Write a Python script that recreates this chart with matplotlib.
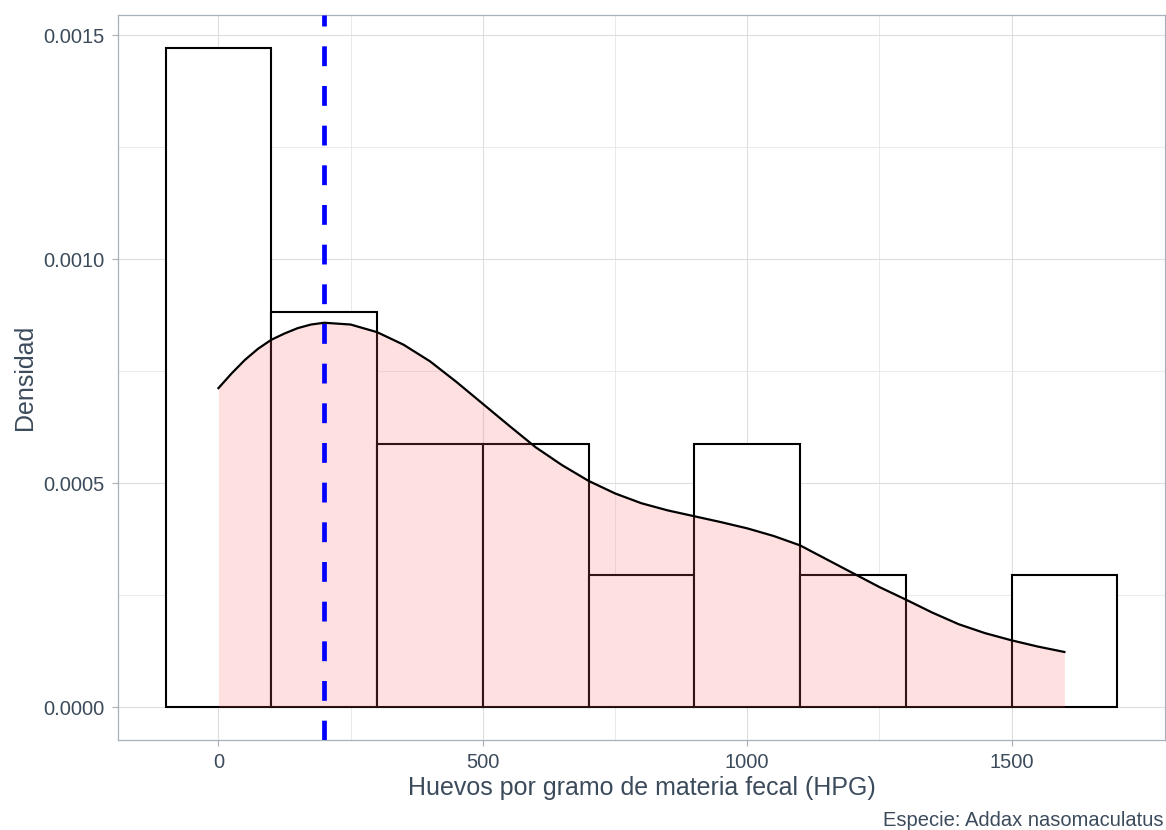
import matplotlib
matplotlib.use('Agg')
import numpy as np
import matplotlib.pyplot as plt

# histogram: bin centres (width 200) and counts, n = 17
bin_centers = [0, 200, 400, 600, 800, 1000, 1200, 1400, 1600]
bin_counts = [5, 3, 2, 2, 1, 2, 1, 0, 1]
bin_width = 200

# density curve
kde_x = [0, 25, 50, 75, 100, 125, 150, 175, 200, 250, 300, 350, 400, 450, 500,
         550, 600, 650, 700, 750, 800, 850, 900, 950, 1000, 1050, 1100, 1150,
         1200, 1250, 1300, 1350, 1400, 1450, 1500, 1550, 1600]
kde_y = [0.000712, 0.000745, 0.000775, 0.000800, 0.000820, 0.000834, 0.000846,
         0.000854, 0.000858, 0.000854, 0.000837, 0.000809, 0.000772, 0.000726,
         0.000677, 0.000628, 0.000580, 0.000540, 0.000505, 0.000477, 0.000455,
         0.000439, 0.000426, 0.000413, 0.000399, 0.000382, 0.000361, 0.000330,
         0.000299, 0.000268, 0.000240, 0.000211, 0.000185, 0.000165, 0.000149,
         0.000135, 0.000123]

ref_line = 200

text_col = '#3C4B5C'
plt.rcParams['font.family'] = ['Liberation Sans', 'DejaVu Sans']

fig = plt.figure(figsize=(11.66, 8.30), dpi=100)
ax = fig.add_axes([0.1012, 0.1084, 0.8978, 0.8735])

n = sum(bin_counts)
dens = np.array(bin_counts) / (n * bin_width)

ax.bar(bin_centers, dens, width=bin_width, color='white', edgecolor='black',
       linewidth=1.5, zorder=2)
ax.fill_between(kde_x, kde_y, 0, color='#FF6666', alpha=0.2, linewidth=0, zorder=3)
ax.plot(kde_x, kde_y, color='black', linewidth=1.6, zorder=4,
        solid_joinstyle='round')
ax.axvline(ref_line, color='blue', linewidth=3.4, dashes=(4.2, 4.2),
           dash_capstyle='butt', zorder=5)

ax.set_xlim(-190, 1790)
ax.set_ylim(-0.0000736, 0.001545)
ax.set_xticks([0, 500, 1000, 1500])
ax.set_xticks([250, 750, 1250], minor=True)
ax.set_yticks([0, 0.0005, 0.0010, 0.0015])
ax.set_yticks([0.00025, 0.00075, 0.00125], minor=True)
ax.set_yticklabels(['0.0000', '0.0005', '0.0010', '0.0015'])

ax.grid(which='major', color='#DEDEDE', linewidth=0.8, zorder=0)
ax.grid(which='minor', color='#E6E6E6', linewidth=0.6, zorder=0)
ax.set_axisbelow(True)
for sp in ax.spines.values():
    sp.set_color('#A8B0BA')
    sp.set_linewidth(0.9)

ax.tick_params(which='major', length=4.5, color='#A8B0BA', width=0.8,
               labelsize=14.5, labelcolor=text_col, pad=5)
ax.tick_params(which='minor', length=0)

ax.set_xlabel('Huevos por gramo de materia fecal (HPG)', fontsize=18,
              color=text_col, labelpad=3)
ax.set_ylabel('Densidad', fontsize=18, color=text_col, labelpad=5)

fig.text(0.998, 0.012, 'Especie: Addax nasomaculatus', ha='right', va='center',
         fontsize=14.5, color=text_col)

fig.savefig('out.png', dpi=100)
